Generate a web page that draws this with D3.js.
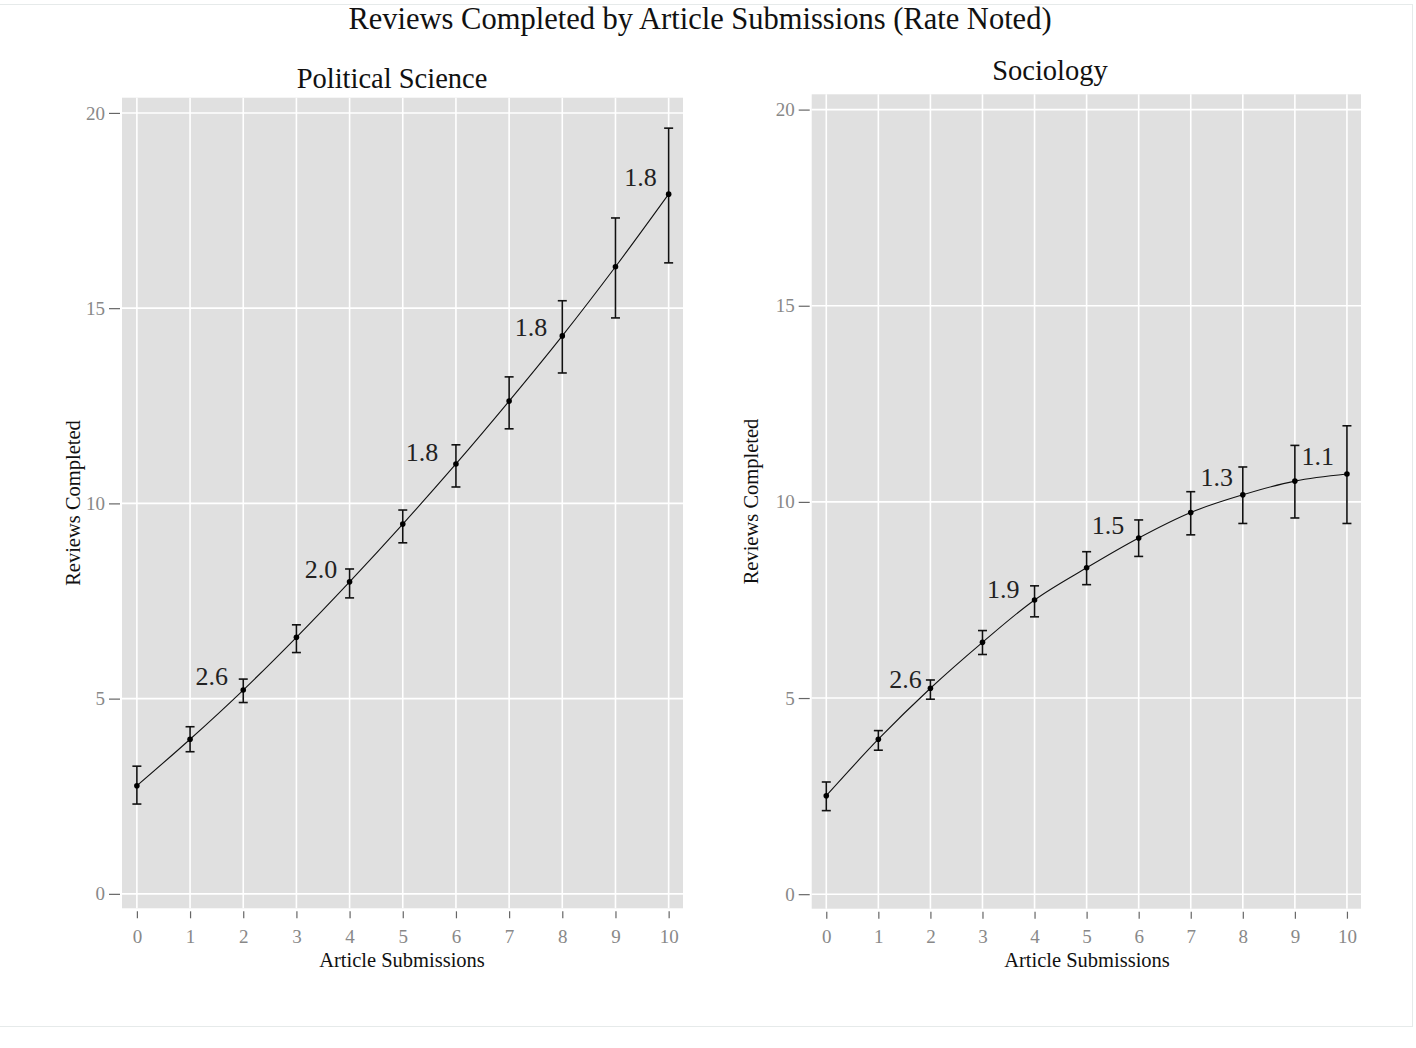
<!DOCTYPE html>
<html>
<head>
<meta charset="utf-8">
<script src="https://cdn.jsdelivr.net/npm/d3@7"></script>
<style>
  body { margin: 0; background: #fff; }
  text { font-family: "Liberation Serif", "DejaVu Serif", serif; }
</style>
</head>
<body>
<div id="chart"></div>
<script>
const width = 1416;
const height = 1048;

// DATA
const submissions = [0, 1, 2, 3, 4, 5, 6, 7, 8, 9, 10];

const polsciMean = [2.77, 3.96, 5.22, 6.57, 7.99, 9.47, 11.01, 12.62, 14.29, 16.06, 17.92];
const polsciLow  = [2.30, 3.64, 4.90, 6.18, 7.58, 8.99, 10.42, 11.91, 13.34, 14.75, 16.16];
const polsciHigh = [3.27, 4.28, 5.50, 6.89, 8.32, 9.83, 11.50, 13.24, 15.19, 17.31, 19.61];

const socMean = [2.51, 3.95, 5.25, 6.42, 7.50, 8.32, 9.08, 9.73, 10.18, 10.53, 10.71];
const socLow  = [2.13, 3.67, 4.97, 6.11, 7.07, 7.89, 8.61, 9.16, 9.45, 9.59, 9.45];
const socHigh = [2.86, 4.17, 5.46, 6.72, 7.86, 8.73, 9.54, 10.26, 10.89, 11.44, 11.94];

// rate annotations (placed in data units)
const polsciRateText = ["2.6", "2.0", "1.8", "1.8", "1.8"];
const polsciRateX = [1.41, 3.46, 5.36, 7.41, 9.47];
const polsciRateY = [5.58, 8.32, 11.32, 14.52, 18.38];

const socRateText = ["2.6", "1.9", "1.5", "1.3", "1.1"];
const socRateX = [1.52, 3.40, 5.41, 7.50, 9.44];
const socRateY = [5.50, 7.80, 9.41, 10.64, 11.18];

const yTicks = [0, 5, 10, 15, 20];

const svg = d3.select("#chart")
  .append("svg")
  .attr("width", width)
  .attr("height", height);

// faint outer frame
svg.append("rect")
  .attr("x", -1).attr("y", 4.5)
  .attr("width", 1413.5).attr("height", 1022)
  .attr("fill", "none")
  .attr("stroke", "#e6eaea");

svg.append("text")
  .attr("x", 700).attr("y", 29)
  .attr("text-anchor", "middle")
  .attr("font-size", 30.5)
  .attr("fill", "#111")
  .text("Reviews Completed by Article Submissions (Rate Noted)");

function panel(opts) {
  const { left, right, top, bottom, title, titleX, titleY, yLabelX, axisX,
          mean, low, high, rateText, rateX, rateY } = opts;

  const x = d3.scaleLinear().domain([-0.28, 10.27]).range([left, right]);
  const y = d3.scaleLinear().domain([-0.37, 20.39]).range([bottom, top]);

  const g = svg.append("g");

  g.append("rect")
    .attr("x", left).attr("y", top)
    .attr("width", right - left).attr("height", bottom - top)
    .attr("fill", "#e0e0e0");

  // grid
  g.selectAll(".vgrid")
    .data(submissions)
    .join("line")
    .attr("x1", d => x(d)).attr("x2", d => x(d))
    .attr("y1", top).attr("y2", bottom)
    .attr("stroke", "#fff").attr("stroke-width", 1.6);

  g.selectAll(".hgrid")
    .data(yTicks)
    .join("line")
    .attr("x1", left).attr("x2", right)
    .attr("y1", d => y(d)).attr("y2", d => y(d))
    .attr("stroke", "#fff").attr("stroke-width", 1.6);

  // y axis
  const yAxis = d3.axisLeft(y).tickValues(yTicks).tickSize(11).tickPadding(4);
  const ya = g.append("g")
    .attr("transform", `translate(${left - 2},0)`)
    .call(yAxis);
  ya.select(".domain").remove();
  ya.selectAll("line").attr("stroke", "#666").attr("stroke-width", 1.2);
  ya.selectAll("text")
    .attr("font-family", "Liberation Serif, serif")
    .attr("font-size", 19)
    .attr("fill", "#888");

  // x axis
  const xAxis = d3.axisBottom(x).tickValues(submissions).tickSize(7).tickPadding(11);
  const xa = g.append("g")
    .attr("transform", `translate(0,${bottom + 3})`)
    .call(xAxis);
  xa.select(".domain").remove();
  xa.selectAll("line").attr("stroke", "#666").attr("stroke-width", 1.2);
  xa.selectAll("text")
    .attr("font-family", "Liberation Serif, serif")
    .attr("font-size", 19)
    .attr("fill", "#888");

  // titles
  g.append("text")
    .attr("x", titleX).attr("y", titleY)
    .attr("text-anchor", "middle")
    .attr("font-size", 28.5)
    .attr("fill", "#111")
    .text(title);

  g.append("text")
    .attr("x", axisX).attr("y", 967)
    .attr("text-anchor", "middle")
    .attr("font-size", 20.5)
    .attr("fill", "#111")
    .text("Article Submissions");

  g.append("text")
    .attr("transform", `translate(${yLabelX},${(top + bottom) / 2}) rotate(-90)`)
    .attr("text-anchor", "middle")
    .attr("font-size", 20.5)
    .attr("fill", "#111")
    .text("Reviews Completed");

  const rows = submissions.map((s, i) => ({ s, m: mean[i], lo: low[i], hi: high[i] }));

  // fitted curve
  const line = d3.line()
    .x(d => x(d.s))
    .y(d => y(d.m))
    .curve(d3.curveMonotoneX);

  g.append("path")
    .datum(rows)
    .attr("d", line)
    .attr("fill", "none")
    .attr("stroke", "#111")
    .attr("stroke-width", 1.1);

  // error bars
  const bars = g.selectAll(".err")
    .data(rows)
    .join("g");

  bars.append("line")
    .attr("x1", d => x(d.s)).attr("x2", d => x(d.s))
    .attr("y1", d => y(d.lo)).attr("y2", d => y(d.hi))
    .attr("stroke", "#111").attr("stroke-width", 1.6);
  bars.append("line")
    .attr("x1", d => x(d.s) - 4.5).attr("x2", d => x(d.s) + 4.5)
    .attr("y1", d => y(d.lo)).attr("y2", d => y(d.lo))
    .attr("stroke", "#111").attr("stroke-width", 1.6);
  bars.append("line")
    .attr("x1", d => x(d.s) - 4.5).attr("x2", d => x(d.s) + 4.5)
    .attr("y1", d => y(d.hi)).attr("y2", d => y(d.hi))
    .attr("stroke", "#111").attr("stroke-width", 1.6);

  g.selectAll(".pt")
    .data(rows)
    .join("circle")
    .attr("cx", d => x(d.s))
    .attr("cy", d => y(d.m))
    .attr("r", 2.8)
    .attr("fill", "#000");

  // rate labels
  g.selectAll(".rate")
    .data(rateText)
    .join("text")
    .attr("x", (d, i) => x(rateX[i]))
    .attr("y", (d, i) => y(rateY[i]))
    .attr("dy", "0.36em")
    .attr("text-anchor", "middle")
    .attr("font-size", 26)
    .attr("fill", "#222")
    .text(d => d);
}

panel({
  left: 122, right: 683, top: 97.7, bottom: 908.3,
  title: "Political Science", titleX: 392, titleY: 88, yLabelX: 80, axisX: 402,
  mean: polsciMean, low: polsciLow, high: polsciHigh,
  rateText: polsciRateText, rateX: polsciRateX, rateY: polsciRateY
});

panel({
  left: 811.7, right: 1361, top: 94.3, bottom: 908.7,
  title: "Sociology", titleX: 1050, titleY: 80, yLabelX: 758, axisX: 1087,
  mean: socMean, low: socLow, high: socHigh,
  rateText: socRateText, rateX: socRateX, rateY: socRateY
});
</script>
</body>
</html>
